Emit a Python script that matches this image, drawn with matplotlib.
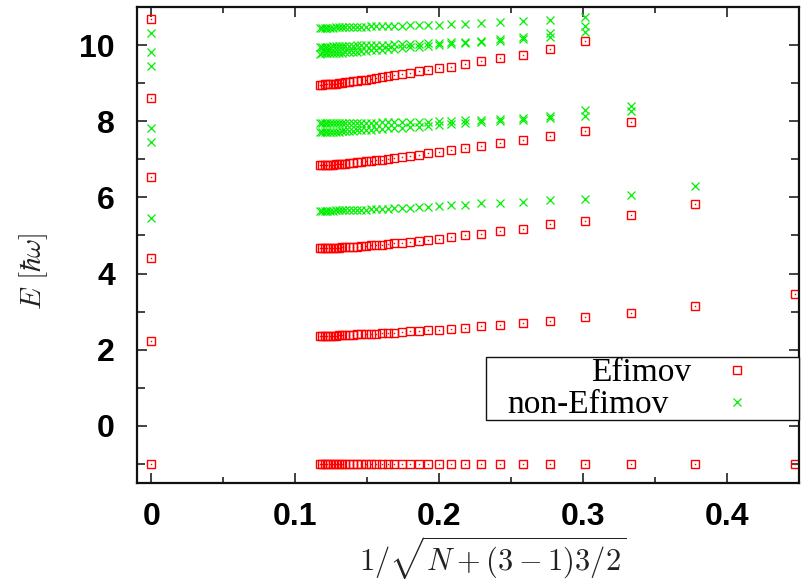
import matplotlib
matplotlib.use("Agg")
import matplotlib.pyplot as plt
from matplotlib.ticker import MultipleLocator
from matplotlib.patches import Rectangle

# x = 1/sqrt(N + (3-1)3/2) for N = 2, 4, ..., 70
x_vals = [0.4472, 0.3780, 0.3333, 0.3015, 0.2774, 0.2582, 0.2425, 0.2294, 0.2182,
          0.2085, 0.2000, 0.1925, 0.1857, 0.1796, 0.1741, 0.1690, 0.1644, 0.1601,
          0.1562, 0.1525, 0.1491, 0.1459, 0.1429, 0.1400, 0.1374, 0.1348, 0.1325,
          0.1302, 0.1280, 0.1260, 0.1240, 0.1222, 0.1204, 0.1187, 0.1170]

# Efimov levels (red squares)
efimov_0 = [-1.0] * 35
efimov_1 = [3.46, 3.16, 2.97, 2.85, 2.76, 2.70, 2.66, 2.61, 2.57, 2.55, 2.53, 2.51,
            2.49, 2.48, 2.46, 2.45, 2.44, 2.43, 2.42, 2.42, 2.41, 2.40, 2.40, 2.39,
            2.39, 2.38, 2.38, 2.38, 2.37, 2.37, 2.37, 2.36, 2.36, 2.36, 2.35]
efimov_2 = [5.82, 5.54, 5.39, 5.29, 5.18, 5.11, 5.05, 5.00, 4.95, 4.92, 4.88, 4.85,
            4.83, 4.81, 4.79, 4.77, 4.76, 4.75, 4.74, 4.73, 4.72, 4.71, 4.70, 4.70,
            4.69, 4.69, 4.68, 4.68, 4.67, 4.67, 4.67, 4.66, 4.66, 4.66]
efimov_3 = [7.99, 7.75, 7.60, 7.50, 7.42, 7.35, 7.30, 7.24, 7.20, 7.16, 7.12, 7.09,
            7.06, 7.04, 7.01, 6.99, 6.98, 6.96, 6.95, 6.93, 6.92, 6.91, 6.90, 6.89,
            6.88, 6.88, 6.87, 6.86, 6.86, 6.85, 6.85, 6.84, 6.84]
efimov_4 = [10.10, 9.89, 9.74, 9.65, 9.57, 9.50, 9.43, 9.39, 9.35, 9.31, 9.27, 9.24,
            9.21, 9.18, 9.16, 9.13, 9.11, 9.09, 9.08, 9.06, 9.05, 9.03, 9.02, 9.01,
            9.00, 8.99, 8.98, 8.98, 8.97, 8.97, 8.96, 8.96]
efimov_limit = [-1.0, 2.22, 4.41, 6.54, 8.62, 10.69]

# non-Efimov levels (green crosses)
non_1 = [6.31, 6.06, 5.96, 5.93, 5.88, 5.86, 5.84, 5.81, 5.79, 5.77, 5.75, 5.74,
         5.73, 5.72, 5.71, 5.70, 5.70, 5.69, 5.69, 5.68, 5.68, 5.67, 5.67, 5.67,
         5.66, 5.66, 5.66, 5.66, 5.65, 5.65, 5.65, 5.65, 5.65, 5.64]
non_2a = [8.27, 8.13, 8.08, 8.04, 8.01, 7.98, 7.95, 7.92, 7.90, 7.88, 7.86, 7.85,
          7.83, 7.82, 7.81, 7.80, 7.79, 7.78, 7.77, 7.77, 7.76, 7.75, 7.75, 7.74,
          7.74, 7.73, 7.73, 7.73, 7.72, 7.72, 7.72, 7.71, 7.71]
non_2b = [8.40, 8.30, 8.14, 8.08, 8.05, 8.03, 8.02, 8.01, 8.00, 7.99, 7.99, 7.98,
          7.98, 7.97, 7.97, 7.97, 7.96, 7.96, 7.96, 7.96, 7.95, 7.95, 7.95, 7.95,
          7.95, 7.95, 7.95, 7.95, 7.95, 7.95, 7.95, 7.95, 7.95]
non_3a = [10.34, 10.21, 10.16, 10.12, 10.08, 10.05, 10.02, 10.00, 9.98, 9.96, 9.94,
          9.92, 9.91, 9.89, 9.88, 9.87, 9.86, 9.85, 9.84, 9.83, 9.82, 9.82, 9.81,
          9.80, 9.80, 9.79, 9.79, 9.79, 9.78, 9.78, 9.78, 9.77]
non_3b = [10.49, 10.32, 10.20, 10.15, 10.11, 10.09, 10.07, 10.06, 10.05, 10.04,
          10.03, 10.02, 10.02, 10.01, 10.01, 10.00, 10.00, 9.99, 9.99, 9.99, 9.98,
          9.98, 9.98, 9.97, 9.97, 9.97, 9.97, 9.96, 9.96, 9.96, 9.96, 9.96]
non_4 = [10.73, 10.66, 10.62, 10.60, 10.57, 10.56, 10.55, 10.54, 10.53, 10.52,
         10.52, 10.51, 10.51, 10.50, 10.50, 10.49, 10.49, 10.48, 10.48, 10.48,
         10.48, 10.47, 10.47, 10.47, 10.47, 10.47, 10.46, 10.46, 10.46, 10.46,
         10.46, 10.46]
non_limit = [5.46, 7.46, 7.82, 9.46, 9.82, 10.32]

x_ticks = [0, 0.1, 0.2, 0.3, 0.4]
x_tick_labels = ["0", "0.1", "0.2", "0.3", "0.4"]
y_ticks = [0, 2, 4, 6, 8, 10]
legend_labels = ["Efimov", "non-Efimov"]

RED = "#ff0000"
GREEN = "#00ee00"

plt.rcParams["mathtext.fontset"] = "cm"

fig = plt.figure(figsize=(8.04, 5.85), dpi=100)
ax = fig.add_axes([137 / 804, 1 - 483 / 585, (798.7 - 137) / 804, (483 - 7) / 585])

sq = dict(linestyle="none", marker="s", markersize=6.3, markerfacecolor="none",
          markeredgecolor=RED, markeredgewidth=1.0)
dot = dict(linestyle="none", marker="s", markersize=1.0, markerfacecolor=RED,
           markeredgecolor=RED, markeredgewidth=0.0)
cr = dict(linestyle="none", marker="x", markersize=6.3, markeredgecolor=GREEN,
          markeredgewidth=0.9)

efimov_series = [efimov_0, efimov_1, efimov_2, efimov_3, efimov_4]
for s in efimov_series:
    xs = x_vals[len(x_vals) - len(s):]
    ax.plot(xs, s, **sq)
    ax.plot(xs, s, **dot)
ax.plot([0.0] * len(efimov_limit), efimov_limit, **sq)
ax.plot([0.0] * len(efimov_limit), efimov_limit, **dot)

non_series = [non_1, non_2a, non_2b, non_3a, non_3b, non_4]
for s in non_series:
    xs = x_vals[len(x_vals) - len(s):]
    ax.plot(xs, s, **cr)
ax.plot([0.0] * len(non_limit), non_limit, **cr)

# legend handles
h1, = ax.plot([], [], **sq)
h2, = ax.plot([], [], **cr)

ax.set_xlim(-0.01, 0.45)
ax.set_ylim(-1.5, 11)
ax.set_xticks(x_ticks)
ax.set_xticklabels(x_tick_labels)
ax.set_yticks(y_ticks)
ax.xaxis.set_minor_locator(MultipleLocator(0.05))
ax.yaxis.set_minor_locator(MultipleLocator(1))

for sp in ax.spines.values():
    sp.set_linewidth(1.6)
    sp.set_color("#111111")

ax.tick_params(which="both", direction="in", top=True, right=True, width=1.2,
               color="#222222")
ax.tick_params(which="major", length=7)
ax.tick_params(axis="x", which="major", pad=14)
ax.tick_params(axis="y", which="major", pad=16)
ax.tick_params(axis="x", which="minor", length=4)
ax.tick_params(axis="y", which="minor", length=6)

for lab in ax.get_xticklabels() + ax.get_yticklabels():
    lab.set_fontfamily("Liberation Sans")
    lab.set_fontweight("bold")
    lab.set_fontsize(23)

ax.set_xlabel(r"$1/\sqrt{N+(3-1)3/2}$", fontsize=22, color="#222222")
ax.xaxis.set_label_coords(0.538, -0.108)
ax.set_ylabel(r"$E\ [\hbar\omega]$", fontsize=21, color="#222222")
ax.yaxis.set_label_coords(-0.131, 0.445)

# legend frame
frame = Rectangle((0.527, 0.132), 0.473, 0.132, transform=ax.transAxes,
                  facecolor="white", edgecolor="#111111", linewidth=1.0,
                  zorder=4, clip_on=False)
ax.add_patch(frame)

fs_pt = 24
fs_px = fs_pt * 100 / 72
common = dict(markerfirst=False, loc="center right", borderaxespad=0,
              frameon=False, handlelength=1.0, labelspacing=0.0, borderpad=0.0,
              prop={"family": "Liberation Serif", "size": fs_pt})
leg1 = ax.legend([h1], legend_labels[:1], bbox_to_anchor=(0.9325, 0.2311),
                 handletextpad=(722 - 692) / fs_px, **common)
leg1.set_zorder(5)
ax.add_artist(leg1)
leg2 = ax.legend([h2], legend_labels[1:], bbox_to_anchor=(0.9325, 0.1639),
                 handletextpad=(722 - 670) / fs_px, **common)
leg2.set_zorder(5)

fig.savefig("out.png", dpi=100)
